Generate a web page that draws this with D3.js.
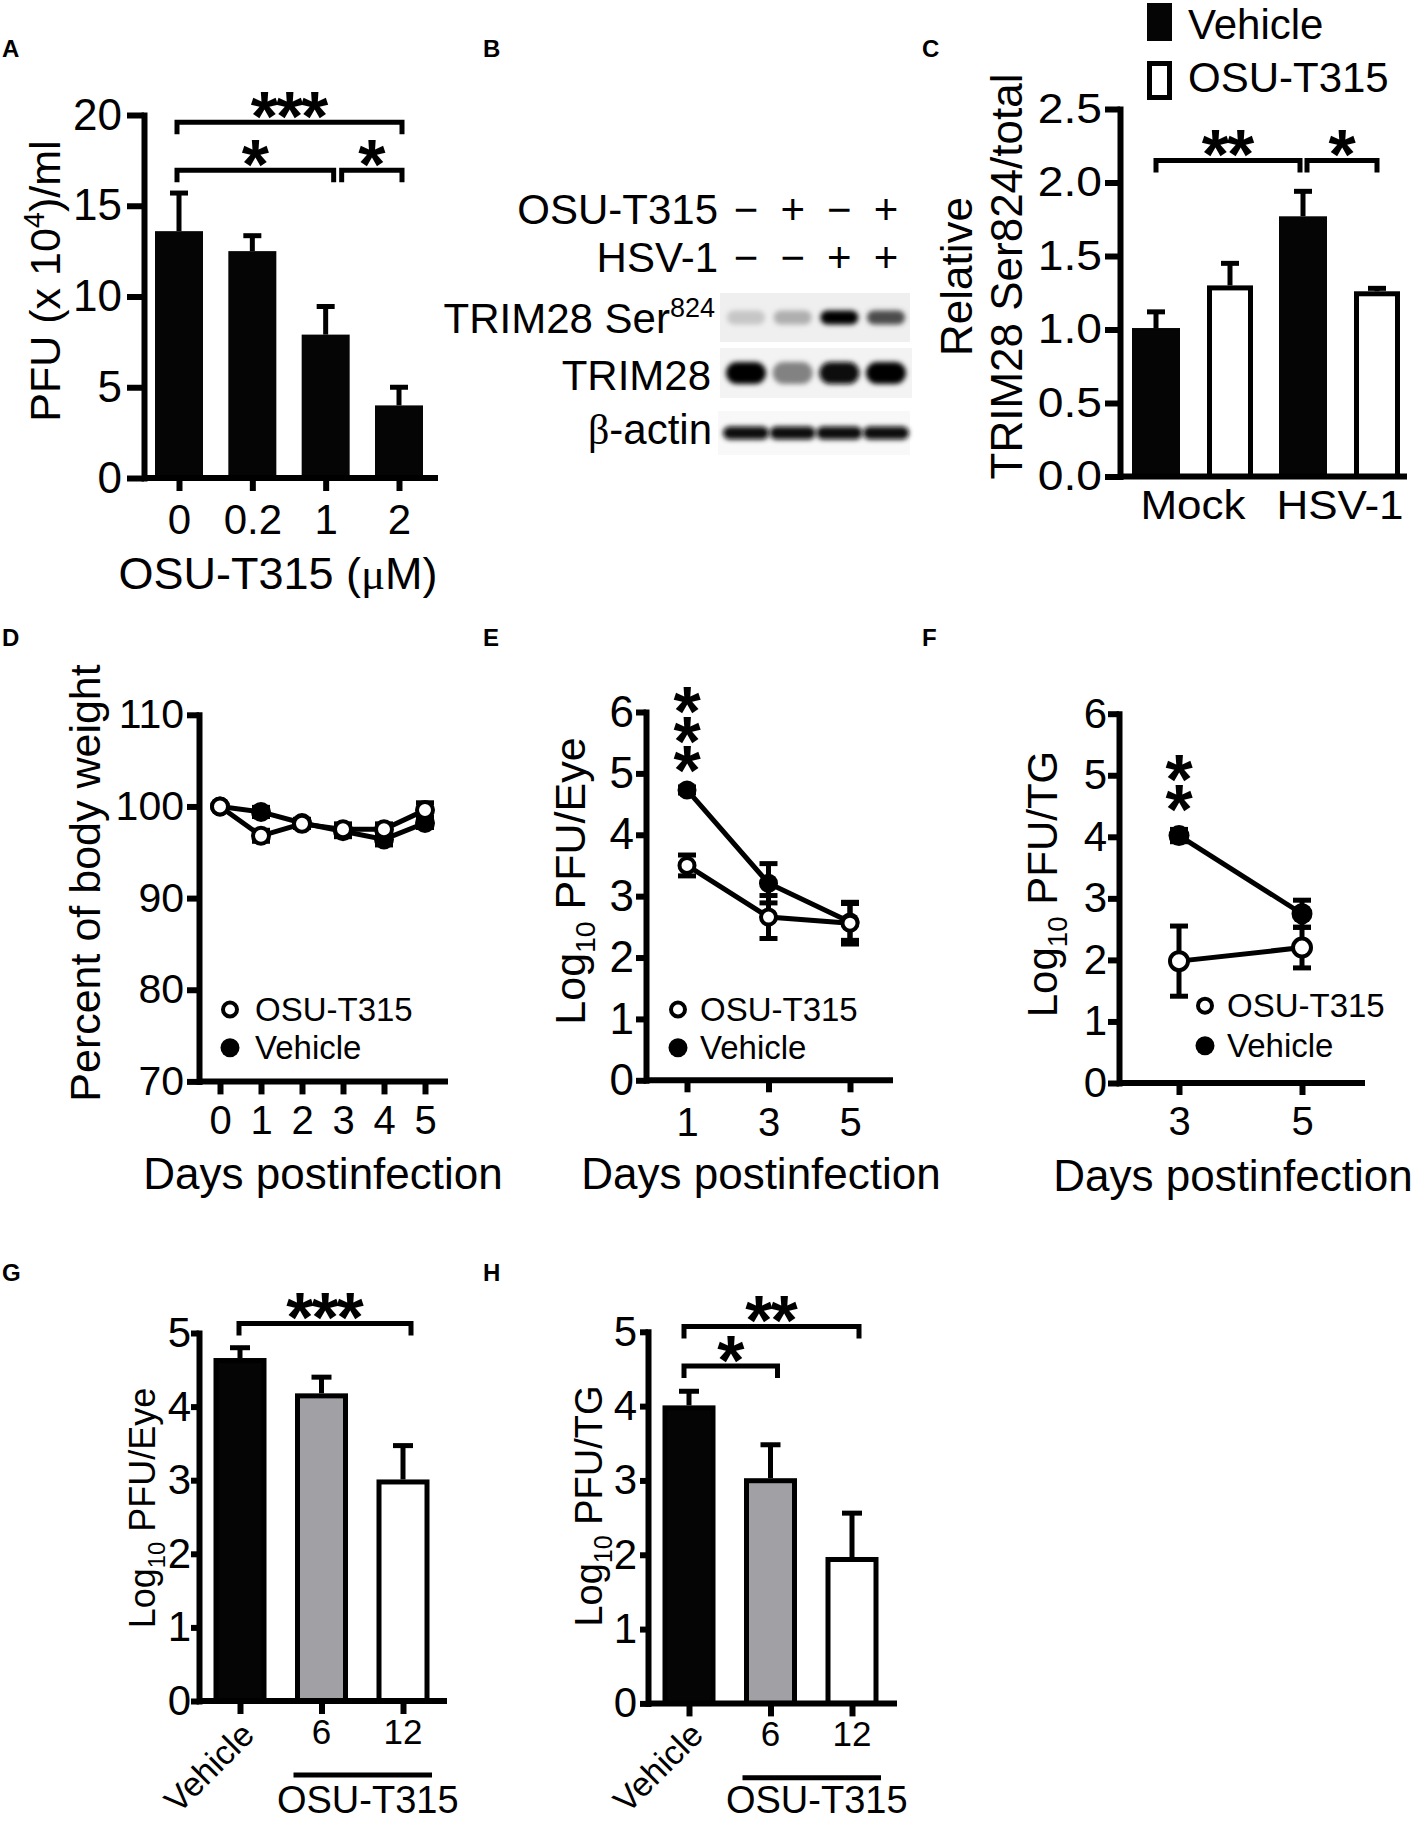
<!DOCTYPE html>
<html>
<head>
<meta charset="utf-8">
<title>OSU-T315 / HSV-1 figure</title>
<script src="https://cdn.jsdelivr.net/npm/d3@7/dist/d3.min.js"></script>
<style>
  body { margin: 0; background: #fff; }
  svg { display: block; }
  .vstars { writing-mode: vertical-rl; text-orientation: upright; }
</style>
</head>
<body>
<script>
// ---- data ----
// A: viral titer vs dose
var doseA = ["0", "0.2", "1", "2"];
var pfuA = [13.6, 12.5, 7.9, 4.0];
var pfuSemA = [2.1, 0.85, 1.55, 1.0];
var sigA = [
  {from: "0", to: "2", level: 19.6, mark: "***"},
  {from: "0", to: "1", level: 16.96, mark: "*"},
  {from: "1", to: "2", level: 16.96, mark: "*"}
];

// B: western blot, lanes and relative band intensity (0..1)
var lanesB = [1, 2, 3, 4];
var osuSignsB = ["\u2212", "+", "\u2212", "+"];
var hsvSignsB = ["\u2212", "\u2212", "+", "+"];
var bandSer824 = [0.16, 0.26, 1.0, 0.68];
var bandTrim28 = [1.0, 0.45, 0.97, 1.0];
var bandActin = [0.97, 0.95, 0.95, 0.95];

// C: relative phospho / total
var groupsC = ["Mock", "HSV-1"];
var seriesC = ["Vehicle", "OSU-T315"];
var vehicleC = [1.01, 1.77];
var vehicleSemC = [0.11, 0.17];
var osuC = [1.30, 1.26];
var osuSemC = [0.15, 0.02];
var sigC = [
  {from: ["Mock", "Vehicle"], to: ["HSV-1", "Vehicle"], level: 2.15, mark: "**"},
  {from: ["HSV-1", "Vehicle"], to: ["HSV-1", "OSU-T315"], level: 2.15, mark: "*"}
];

// D: body weight
var daysD = [0, 1, 2, 3, 4, 5];
var weightOsu = [100, 96.8, 98.1, 97.5, 97.5, 99.6];
var weightOsuSem = [0.2, 0.6, 0.4, 0.6, 0.6, 0.8];
var weightVeh = [100, 99.4, 98.2, 97.3, 96.4, 98.2];
var weightVehSem = [0.2, 0.5, 0.4, 0.6, 0.6, 0.5];

// E: eye titers
var daysE = [1, 3, 5];
var eyeOsu = [3.50, 2.66, 2.56];
var eyeOsuSem = [0.17, 0.35, 0.34];
var eyeVeh = [4.73, 3.21, 2.58];
var eyeVehSem = [0.05, 0.32, 0.3];
var starsE = {day: 1, mark: "***"};

// F: TG titers
var daysF = [3, 5];
var tgOsu = [1.98, 2.2];
var tgOsuSem = [0.57, 0.33];
var tgVeh = [4.02, 2.75];
var tgVehSem = [0.1, 0.22];
var starsF = {day: 3, mark: "**"};

// G, H: dose response (OSU-T315 mg/kg)
var doseGH = ["Vehicle", "6", "12"];
var eyeG = [4.66, 4.18, 3.01];
var eyeSemG = [0.14, 0.22, 0.46];
var tgH = [4.01, 3.03, 1.97];
var tgSemH = [0.19, 0.45, 0.59];
var sigG = [{from: "Vehicle", to: "12", level: 5.13, mark: "***"}];
var sigH = [
  {from: "Vehicle", to: "12", level: 5.07, mark: "**"},
  {from: "Vehicle", to: "6", level: 4.54, mark: "*"}
];

// ---- drawing ----
var FONT = '"Liberation Sans", Arial, Helvetica, sans-serif';
var LW = 6;        // axis line width
var EW = 5;        // error bar / data line width
var STAR = 70;
var STAR_MID = 0.51;   // asterisk centre above baseline, in em

var svg = d3.select("body").append("svg")
    .attr("width", 1417).attr("height", 1822)
    .attr("font-family", FONT);

var defs = svg.append("defs");
defs.append("filter").attr("id", "blur")
    .attr("x", "-50%").attr("y", "-100%").attr("width", "200%").attr("height", "300%")
  .append("feGaussianBlur").attr("stdDeviation", 2.6);

function txt(g, s, x, y, size, o) {
  o = o || {};
  var tr = "translate(" + x + "," + y + ")";
  if (o.rot) tr += " rotate(" + o.rot + ")";
  if (o.sx) tr += " scale(" + o.sx + ",1)";
  var t = g.append("text").attr("transform", tr)
      .attr("text-anchor", o.anchor || "start")
      .attr("font-size", size)
      .attr("fill", "#000");
  if (o.bold) t.attr("font-weight", "bold");
  if (s !== null) t.text(s);
  return t;
}

function styleAxis(a, size) {
  a.attr("font-family", FONT).attr("font-size", size);
  a.selectAll(".domain, .tick line").attr("stroke", "#000").attr("stroke-width", LW);
  a.selectAll(".tick text").attr("fill", "#000");
}

function yAxis(g, scale, x, ticks, o) {
  var ax = d3.axisLeft(scale).tickValues(ticks).tickSize(o.tick)
      .tickSizeOuter(0).tickPadding(o.pad);
  if (o.fmt) ax.tickFormat(o.fmt);
  var a = g.append("g").attr("transform", "translate(" + x + ",0)").call(ax);
  styleAxis(a, o.size);
  a.select(".domain").attr("stroke-linecap", "square");
  if (o.sx) {
    a.selectAll(".tick text").attr("transform", "scale(" + o.sx + ",1)")
        .attr("x", -(o.tick + o.pad) / o.sx);
  }
  return a;
}

function xAxis(g, scale, y, o) {
  var ax = d3.axisBottom(scale).tickSize(o.tick).tickPadding(o.pad);
  if (o.ticks) ax.tickValues(o.ticks);
  if (o.fmt) ax.tickFormat(o.fmt);
  var a = g.append("g").attr("transform", "translate(0," + y + ")").call(ax);
  styleAxis(a, o.size);
  a.select(".domain").remove();
  if (o.noLabels) a.selectAll(".tick text").remove();
  return a;
}

function baseLine(g, x1, x2, y) {
  g.append("line").attr("x1", x1).attr("x2", x2).attr("y1", y).attr("y2", y)
      .attr("stroke", "#000").attr("stroke-width", LW);
}

function stars(g, mark, cx, cy) {
  txt(g, mark, cx - 1, cy + STAR_MID * STAR, STAR, {anchor: "middle", bold: true})
      .attr("letter-spacing", -2);
}

// vertical stack of stars: one text run set vertically
function starStack(g, mark, cx, cyFirst, step) {
  var adv = 1.117 * STAR;   // upright advance = ascent + descent
  g.append("text").attr("class", "vstars")
      .attr("x", cx).attr("y", cyFirst - (0.905 - STAR_MID) * STAR)
      .attr("font-size", STAR).attr("font-weight", "bold")
      .attr("letter-spacing", step - adv)
      .attr("fill", "#000")
      .text(mark);
}

function drawBrackets(g, sig, xOf, yScale, o) {
  sig.forEach(function(s) {
    var x1 = xOf(s.from) + o.l, x2 = xOf(s.to) + o.r;
    sig.forEach(function(t) {
      if (t !== s && t.level === s.level) {
        if (xOf(t.from) === xOf(s.to)) x2 = xOf(s.to) + o.joinL;
        if (xOf(t.to) === xOf(s.from)) x1 = xOf(s.from) + o.joinR;
      }
    });
    var yb = yScale(s.level);
    g.append("path")
        .attr("d", "M" + x1 + "," + (yb + 12) + "V" + yb + "H" + x2 + "V" + (yb + 12))
        .attr("fill", "none").attr("stroke", "#000").attr("stroke-width", EW);
    stars(g, s.mark, (x1 + x2) / 2, yb - 17);
  });
}

function upperError(g, cx, yTop, yEnd, cap) {
  g.append("line").attr("x1", cx).attr("x2", cx).attr("y1", yTop).attr("y2", yEnd)
      .attr("stroke", "#000").attr("stroke-width", EW);
  g.append("line").attr("x1", cx - cap / 2).attr("x2", cx + cap / 2).attr("y1", yEnd).attr("y2", yEnd)
      .attr("stroke", "#000").attr("stroke-width", EW);
}

function drawSeries(g, x, y, days, mean, sem, filled, r) {
  var pts = days.map(function(d, i) { return {d: d, m: mean[i], e: sem[i]}; });
  g.append("path").datum(pts)
      .attr("d", d3.line().x(function(p) { return x(p.d); }).y(function(p) { return y(p.m); }))
      .attr("fill", "none").attr("stroke", "#000").attr("stroke-width", EW);
  pts.forEach(function(p) {
    var cx = x(p.d), y1 = y(p.m - p.e), y2 = y(p.m + p.e);
    g.append("line").attr("x1", cx).attr("x2", cx).attr("y1", y1).attr("y2", y2)
        .attr("stroke", "#000").attr("stroke-width", EW);
    [y1, y2].forEach(function(yy) {
      g.append("line").attr("x1", cx - 9).attr("x2", cx + 9).attr("y1", yy).attr("y2", yy)
          .attr("stroke", "#000").attr("stroke-width", EW);
    });
  });
  g.selectAll(null).data(pts).enter().append("circle")
      .attr("cx", function(p) { return x(p.d); })
      .attr("cy", function(p) { return y(p.m); })
      .attr("r", filled ? r + 2 : r)
      .attr("fill", filled ? "#000" : "#fff")
      .attr("stroke", "#000").attr("stroke-width", filled ? 0 : 4);
}

function pointLegend(g, cx, tx, y1, y2, size) {
  g.append("circle").attr("cx", cx).attr("cy", y1).attr("r", 7)
      .attr("fill", "#fff").attr("stroke", "#000").attr("stroke-width", 4);
  txt(g, "OSU-T315", tx, y1 + 11.5, size);
  g.append("circle").attr("cx", cx).attr("cy", y2).attr("r", 9.5).attr("fill", "#000");
  txt(g, "Vehicle", tx, y2 + 11.5, size);
}

function logTitle(g, x, y, unit, size) {
  var t = txt(g, null, x, y, size, {rot: -90, anchor: "middle"});
  t.append("tspan").text("Log");
  t.append("tspan").attr("font-size", size * 0.66).attr("dy", 10).text("10");
  t.append("tspan").attr("dy", -10).text(" " + unit);
}

// panel letters
[["A", 2, 57], ["B", 483, 57], ["C", 922, 57], ["D", 2, 646], ["E", 483, 646],
 ["F", 922, 646], ["G", 2, 1281], ["H", 483, 1281]].forEach(function(p) {
  txt(svg, p[0], p[1], p[2], 24, {bold: true});
});

// ---------- A ----------
var gA = svg.append("g");
var yA = d3.scaleLinear().domain([0, 20]).range([478, 115]);
var xA = d3.scalePoint().domain(doseA).range([179, 399]);
doseA.forEach(function(d, i) {
  upperError(gA, xA(d), yA(pfuA[i]), yA(pfuA[i] + pfuSemA[i]), 18);
});
gA.selectAll("rect.bar").data(doseA).enter().append("rect")
    .attr("x", function(d) { return xA(d) - 24; }).attr("width", 48)
    .attr("y", function(d, i) { return yA(pfuA[i]); })
    .attr("height", function(d, i) { return yA(0) - yA(pfuA[i]); })
    .attr("fill", "#050505");
yAxis(gA, yA, 144, [0, 5, 10, 15, 20], {tick: 17, pad: 5, size: 44});
baseLine(gA, 144, 438, yA(0));
xAxis(gA, xA, yA(0), {tick: 13, pad: 13, size: 42});
drawBrackets(gA, sigA, xA, yA, {l: -2, r: 3, joinL: 8, joinR: 16});
var tA = txt(gA, null, 60, 281, 43, {rot: -90, anchor: "middle"});
tA.append("tspan").text("PFU (x 10");
tA.append("tspan").attr("font-size", 29).attr("dy", -16).text("4");
tA.append("tspan").attr("dy", 16).text(")/ml");
var xtA = txt(gA, null, 278, 589, 45, {anchor: "middle"});
xtA.append("tspan").text("OSU-T315 (");
xtA.append("tspan").attr("font-family", '"Liberation Serif", "DejaVu Serif", serif').text("\u03bc");
xtA.append("tspan").text("M)");

// ---------- B ----------
var gB = svg.append("g");
var xB = d3.scalePoint().domain(lanesB).range([746, 886]);
txt(gB, "OSU-T315", 718, 224, 42, {anchor: "end"});
txt(gB, "HSV-1", 718, 272, 42, {anchor: "end"});
lanesB.forEach(function(l, i) {
  txt(gB, osuSignsB[i], xB(l), 224, 42, {anchor: "middle"});
  txt(gB, hsvSignsB[i], xB(l), 272, 42, {anchor: "middle"});
});
var bandColor = d3.scaleLinear().domain([0, 1]).range(["#ececec", "#000"]);
var strips = [
  {vals: bandSer824, top: 293, h: 49, bw: 38, bh: 14, bg: "#efefef", x0: 720, x1: 910},
  {vals: bandTrim28, top: 348, h: 50, bw: 40, bh: 22, bg: "#f3f3f3", x0: 720, x1: 912},
  {vals: bandActin, top: 411, h: 44, bw: 46, bh: 13, bg: "#f8f8f8", x0: 718, x1: 910}
];
strips.forEach(function(s) {
  gB.append("rect").attr("x", s.x0).attr("y", s.top).attr("width", s.x1 - s.x0).attr("height", s.h)
      .attr("fill", s.bg);
  gB.selectAll(null).data(lanesB).enter().append("rect")
      .attr("x", function(l) { return xB(l) - s.bw / 2; })
      .attr("y", s.top + s.h / 2 - s.bh / 2)
      .attr("width", s.bw).attr("height", s.bh)
      .attr("rx", s.bh / 2)
      .attr("fill", function(l, i) { return bandColor(s.vals[i]); })
      .attr("filter", "url(#blur)");
});
var tSer = txt(gB, null, 715, 333, 42, {anchor: "end"});
tSer.append("tspan").text("TRIM28 Ser");
tSer.append("tspan").attr("font-size", 27).attr("dy", -16).text("824");
txt(gB, "TRIM28", 711, 390, 42, {anchor: "end"});
var tAct = txt(gB, null, 712, 444, 42, {anchor: "end"});
tAct.append("tspan").attr("font-family", '"Liberation Serif", "DejaVu Serif", serif').text("\u03b2");
tAct.append("tspan").text("-actin");

// ---------- C ----------
var gC = svg.append("g");
var yC = d3.scaleLinear().domain([0, 2.5]).range([476.5, 109]);
var xC = d3.scalePoint().domain(groupsC).range([1193, 1340]);
var xCs = d3.scalePoint().domain(seriesC).range([-37, 37]);
var barsC = [];
groupsC.forEach(function(g, i) {
  barsC.push({g: g, s: "Vehicle", v: vehicleC[i], e: vehicleSemC[i]});
  barsC.push({g: g, s: "OSU-T315", v: osuC[i], e: osuSemC[i]});
});
function xOfC(k) { return xC(k[0]) + xCs(k[1]); }
barsC.forEach(function(b) {
  var cx = xOfC([b.g, b.s]);
  upperError(gC, cx, yC(b.v), yC(b.v + b.e), 18);
  if (b.s === "Vehicle") {
    gC.append("rect").attr("x", cx - 24).attr("width", 48)
        .attr("y", yC(b.v)).attr("height", yC(0) - yC(b.v)).attr("fill", "#050505");
  } else {
    gC.append("rect").attr("x", cx - 20.5).attr("width", 41)
        .attr("y", yC(b.v) + 2.5).attr("height", yC(0) - yC(b.v) - 2.5)
        .attr("fill", "#fff").attr("stroke", "#000").attr("stroke-width", 5);
  }
});
yAxis(gC, yC, 1120, [0, 0.5, 1, 1.5, 2, 2.5], {tick: 15, pad: 3, size: 42, sx: 1.1, fmt: d3.format(".1f")});
baseLine(gC, 1120, 1407, yC(0));
groupsC.forEach(function(g) {
  txt(gC, g, xC(g), 518.6, 40, {anchor: "middle", sx: 1.1});
});
drawBrackets(gC, sigC, xOfC, yC, {l: 0, r: 0, joinL: -3, joinR: 4});
gC.append("rect").attr("x", 1147).attr("y", 3).attr("width", 25).attr("height", 38).attr("fill", "#050505");
gC.append("rect").attr("x", 1149.5).attr("y", 63.5).attr("width", 20).attr("height", 34)
    .attr("fill", "#fff").attr("stroke", "#000").attr("stroke-width", 5);
txt(gC, "Vehicle", 1188, 39, 42);
txt(gC, "OSU-T315", 1188, 92, 42);
txt(gC, "Relative", 972, 276.5, 44, {rot: -90, anchor: "middle"});
txt(gC, "TRIM28 Ser824/total", 1022, 276.5, 44, {rot: -90, anchor: "middle"});

// ---------- D ----------
var gD = svg.append("g");
var yD = d3.scaleLinear().domain([70, 110]).range([1081.4, 714.8]);
var xD = d3.scaleLinear().domain([0, 5]).range([220, 425]);
yAxis(gD, yD, 199, [70, 80, 90, 100, 110], {tick: 12, pad: 3, size: 41});
baseLine(gD, 199, 448, yD(70));
xAxis(gD, xD, yD(70), {tick: 13, pad: 11, size: 40, ticks: daysD, fmt: d3.format("d")});
drawSeries(gD, xD, yD, daysD, weightVeh, weightVehSem, true, 8);
drawSeries(gD, xD, yD, daysD, weightOsu, weightOsuSem, false, 8);
pointLegend(gD, 230, 255, 1009.5, 1047.8, 33);
txt(gD, "Percent of body weight", 100, 883, 43, {rot: -90, anchor: "middle"});
txt(gD, "Days postinfection", 323, 1189, 44, {anchor: "middle"});

// ---------- E ----------
var gE = svg.append("g");
var yE = d3.scaleLinear().domain([0, 6]).range([1080.3, 712]);
var xE = d3.scaleLinear().domain([1, 5]).range([687, 850]);
yAxis(gE, yE, 646, d3.range(0, 7), {tick: 10, pad: 2, size: 44, fmt: d3.format("d")});
baseLine(gE, 646, 893, yE(0));
xAxis(gE, xE, yE(0), {tick: 12, pad: 15, size: 40, ticks: daysE, fmt: d3.format("d")});
drawSeries(gE, xE, yE, daysE, eyeVeh, eyeVehSem, true, 7.5);
drawSeries(gE, xE, yE, daysE, eyeOsu, eyeOsuSem, false, 7.5);
starStack(gE, starsE.mark, xE(starsE.day), yE(eyeVeh[0]) - 89, 29.5);
pointLegend(gE, 678, 700, 1009.5, 1047.8, 33);
logTitle(gE, 585, 881, "PFU/Eye", 43);
txt(gE, "Days postinfection", 761, 1189, 44, {anchor: "middle"});

// ---------- F ----------
var gF = svg.append("g");
var yF = d3.scaleLinear().domain([0, 6]).range([1083, 713.7]);
var xF = d3.scaleLinear().domain([3, 5]).range([1179, 1302]);
yAxis(gF, yF, 1119, d3.range(0, 7), {tick: 11, pad: 1, size: 42, fmt: d3.format("d")});
baseLine(gF, 1119, 1365, yF(0));
xAxis(gF, xF, yF(0), {tick: 12, pad: 12, size: 40, ticks: daysF, fmt: d3.format("d")});
drawSeries(gF, xF, yF, daysF, tgVeh, tgVehSem, true, 8.5);
drawSeries(gF, xF, yF, daysF, tgOsu, tgOsuSem, false, 9);
starStack(gF, starsF.mark, xF(starsF.day), yF(tgVeh[0]) - 67, 30.6);
pointLegend(gF, 1205, 1227, 1005.7, 1045.8, 33);
logTitle(gF, 1057, 884, "PFU/TG", 42);
txt(gF, "Days postinfection", 1233, 1191, 44, {anchor: "middle"});

// ---------- G, H ----------
var fillGH = d3.scaleOrdinal().domain(doseGH).range(["#050505", "#a0a0a5", "#ffffff"]);
function doseBars(g, x, y, vals, sems) {
  doseGH.forEach(function(d, i) {
    upperError(g, x(d), y(vals[i]), y(vals[i] + sems[i]), 20);
  });
  g.selectAll("rect.bar").data(doseGH).enter().append("rect")
      .attr("x", function(d) { return x(d) - 24; }).attr("width", 48)
      .attr("y", function(d, i) { return y(vals[i]) + 2.5; })
      .attr("height", function(d, i) { return y(0) - y(vals[i]) - 2.5; })
      .attr("fill", function(d) { return fillGH(d); })
      .attr("stroke", "#000").attr("stroke-width", 5);
}
function doseLabels(g, x, yBase, yLine) {
  txt(g, "Vehicle", x("Vehicle") + 16, 1737, 34, {rot: -45, anchor: "end"});
  ["6", "12"].forEach(function(d) { txt(g, d, x(d), yBase, 35, {anchor: "middle"}); });
  var l1 = x("6") - 28, l2 = x("12") + 29;
  g.append("line").attr("x1", l1).attr("x2", l2).attr("y1", yLine).attr("y2", yLine)
      .attr("stroke", "#000").attr("stroke-width", 5);
  txt(g, "OSU-T315", (l1 + l2) / 2 + 5, 1813, 38, {anchor: "middle"});
}

var gG = svg.append("g");
var yG = d3.scaleLinear().domain([0, 5]).range([1701, 1333]);
var xG = d3.scalePoint().domain(doseGH).range([240, 403]);
doseBars(gG, xG, yG, eyeG, eyeSemG);
yAxis(gG, yG, 199, d3.range(0, 6), {tick: 8, pad: 0, size: 42, fmt: d3.format("d")});
baseLine(gG, 199, 447, yG(0));
xAxis(gG, xG, yG(0), {tick: 13, pad: 0, size: 35, noLabels: true});
doseLabels(gG, xG, 1744, 1775);
drawBrackets(gG, sigG, xG, yG, {l: -1, r: 8, joinL: 0, joinR: 0});
logTitle(gG, 155, 1508, "PFU/Eye", 36);

var gH = svg.append("g");
var yH = d3.scaleLinear().domain([0, 5]).range([1703.4, 1331.8]);
var xH = d3.scalePoint().domain(doseGH).range([689, 852]);
doseBars(gH, xH, yH, tgH, tgSemH);
yAxis(gH, yH, 648, d3.range(0, 6), {tick: 8, pad: 3, size: 42, fmt: d3.format("d")});
baseLine(gH, 648, 897, yH(0));
xAxis(gH, xH, yH(0), {tick: 13, pad: 0, size: 35, noLabels: true});
doseLabels(gH, xH, 1746, 1777.7);
drawBrackets(gH, sigH, xH, yH, {l: -5, r: 7, joinL: 0, joinR: 0});
logTitle(gH, 602, 1506, "PFU/TG", 38);
</script>
</body>
</html>
